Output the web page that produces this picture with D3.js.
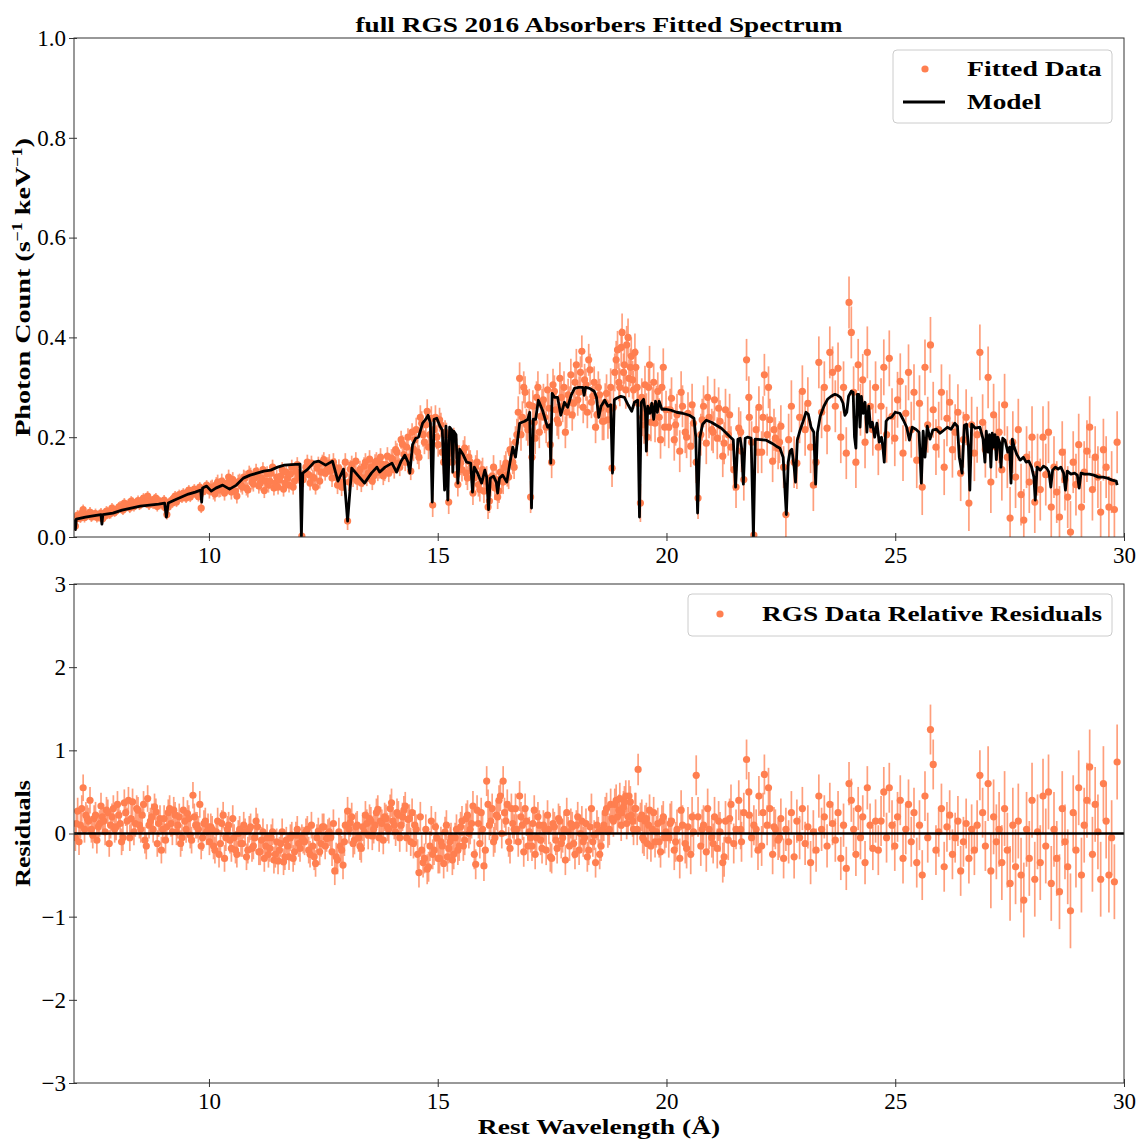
<!DOCTYPE html>
<html>
<head>
<meta charset="utf-8">
<script src="https://cdn.jsdelivr.net/npm/d3@7"></script>
<style>
  body { margin: 0; background: #fff; }
  svg { display: block; }
  svg text { font-family: "Liberation Serif", "DejaVu Serif", serif !important; }
</style>
</head>
<body>
<div id="chart"></div>
<script>
// ---- data ----
// RGS1 bins: centre wavelength (Angstrom), photon count, relative residual
const rgs1Wave = [
  7.08,7.13,7.19,7.25,7.31,7.37,7.43,7.49,7.55,7.61,7.67,7.73,7.79,7.85,7.91,7.97,8.03,8.09,8.15,8.21,
  8.27,8.33,8.39,8.45,8.51,8.57,8.63,8.69,8.75,8.81,8.87,8.93,8.99,9.05,9.11,9.17,9.23,9.29,9.35,9.41,
  9.47,9.53,9.59,9.65,9.71,9.77,9.83,9.89,9.95,
  10.01,10.07,10.13,10.19,10.25,10.31,10.37,10.43,10.49,10.55,10.61,10.67,10.73,10.79,10.85,10.91,10.97,11.03,11.09,11.15,
  11.21,11.27,11.33,11.39,11.45,11.51,11.57,11.63,11.69,11.75,11.81,11.87,11.93,11.99,12.03,12.09,12.15,12.21,12.27,12.33,
  12.39,12.45,12.51,12.57,
  12.63,12.69,12.75,12.81,12.87,12.93,12.98,13.03,13.09,13.15,13.21,13.27,13.33,13.39,13.45,13.51,13.57,13.63,13.69,13.75,
  13.81,13.87,13.93,13.99,14.05,14.11,14.17,14.23,14.29,14.35,14.41,
  14.47,14.53,14.59,14.65,14.71,14.77,14.83,14.89,14.95,15.01,15.07,15.13,15.19,15.24,15.29,15.35,15.41,15.47,15.53,15.59,
  15.65,15.71,15.77,15.83,15.89,15.95,16.01,16.07,16.13,16.19,16.25,16.31,16.37,16.43,16.49,16.55,16.61,16.67,
  16.73,16.79,16.85,16.91,16.97,17.03,17.08,17.13,17.19,17.25,17.31,17.37,17.43,17.49,17.55,17.61,17.67,17.73,17.79,17.85,
  17.91,17.97,18.03,18.09,18.15,18.21,18.27,18.33,18.39,18.45,18.51,18.57,
  18.63,18.69,18.75,18.81,18.87,18.93,18.98,19.03,19.08,19.13,19.18,19.23,19.28,19.33,19.38,19.43,19.48,19.53,19.58,19.63,
  19.69,19.75,19.81,19.87,19.93,19.99,
  20.05,20.11,20.17,20.23,20.29,20.35,20.41,20.47,20.53,20.59,20.65,20.69,20.75,20.81,20.87,20.93,20.99,21.05,21.11,21.17,
  21.23,21.29,21.35,21.41,21.47,21.52,21.58,21.64,21.69,21.75,21.81,21.86,21.91,21.96,22.02,22.08,22.14,22.20,22.26,22.32,
  22.38,22.44,22.50,22.56,
  22.61,22.67,22.73,22.79,22.85,22.91,22.97,23.03,23.09,23.15,23.21,23.27,23.33,23.39,23.45,23.51,23.57,23.63,23.69,23.75,
  23.81,23.87,23.93,23.99,24.04,24.09,24.14,24.19,24.24,24.29,24.34,24.39,24.45,24.51,24.57,
  24.63,24.69,24.75,24.81,24.87,24.93,24.99,25.05,25.11,25.17,25.23,25.29,25.35,25.41,25.47,25.53,25.59,25.65,25.71,25.77,
  25.83,25.89,25.95,26.01,26.07,26.13,26.19,26.25,26.31,26.37,26.43,26.49,26.55,26.61,26.67,26.73,26.79,26.85,26.91,26.97,
  27.03,27.09,27.15,27.21,27.27,27.33,27.39,27.45,27.51,27.57,27.63,27.69,27.75,27.81,27.87,27.93,27.99,28.05,28.11,28.17,
  28.23,28.29,28.35,28.41,28.47,28.53,28.59,28.65,28.71,28.77,28.83,28.89,28.95,29.01,29.07,29.13,29.19,29.25,29.31,29.37,
  29.43,29.49,29.55,29.61,29.67,29.73,29.79,29.85
];
const rgs1Flux = [
  0.022,0.044,0.038,0.055,0.042,0.046,0.040,0.044,0.039,0.045,0.036,0.042,0.050,0.047,0.055,0.052,0.060,0.057,0.068,0.062,
  0.058,0.070,0.064,0.073,0.066,0.078,0.068,0.064,0.072,0.076,0.061,0.070,0.068,0.058,0.060,0.072,0.078,0.070,0.085,0.078,
  0.083,0.090,0.080,0.088,0.092,0.081,0.058,0.097,0.104,
  0.092,0.100,0.086,0.110,0.095,0.104,0.097,0.120,0.090,0.106,0.082,0.112,0.100,0.118,0.094,0.124,0.106,0.132,0.102,0.118,
  0.093,0.127,0.112,0.140,0.108,0.100,0.122,0.096,0.130,0.104,0.140,0.112,0.145,0.118,0.002,0.128,0.150,0.108,0.120,0.100,
  0.146,0.130,0.155,0.135,
  0.148,0.118,0.140,0.104,0.128,0.110,0.150,0.032,0.136,0.118,0.152,0.126,0.108,0.142,0.120,0.156,0.112,0.148,0.130,0.160,
  0.122,0.145,0.128,0.158,0.135,0.170,0.140,0.186,0.150,0.200,0.132,
  0.176,0.215,0.160,0.228,0.190,0.252,0.205,0.064,0.240,0.185,0.225,0.150,0.205,0.070,0.170,0.195,0.125,0.160,0.135,0.178,
  0.118,0.150,0.088,0.140,0.105,0.128,0.092,0.118,0.072,0.122,0.098,0.080,0.130,0.110,0.148,0.120,0.168,0.140,
  0.205,0.318,0.240,0.290,0.215,0.080,0.262,0.198,0.300,0.242,0.275,0.220,0.258,0.150,0.292,0.235,0.318,0.262,0.210,0.285,
  0.325,0.268,0.345,0.290,0.372,0.315,0.250,0.335,0.282,0.220,0.300,0.258,
  0.232,0.288,0.255,0.138,0.330,0.375,0.300,0.410,0.345,0.385,0.318,0.362,0.295,0.340,0.268,0.068,0.240,0.305,0.200,0.345,
  0.262,0.228,0.292,0.195,0.340,0.255,
  0.220,0.278,0.195,0.245,0.172,0.262,0.210,0.248,0.182,0.228,0.150,0.078,0.205,0.262,0.188,0.240,0.215,0.275,0.198,0.232,
  0.162,0.255,0.205,0.180,0.135,0.100,0.218,0.172,0.115,0.355,0.240,0.190,0.004,0.215,0.260,0.170,0.325,0.205,0.235,0.152,
  0.198,0.178,0.222,0.140,
  0.045,0.195,0.262,0.150,0.148,0.240,0.292,0.215,0.268,0.180,0.104,0.150,0.350,0.250,0.300,0.218,0.370,0.330,0.262,0.338,
  0.200,0.300,0.168,0.470,0.410,0.290,0.150,0.345,0.255,0.315,0.190,0.370,0.262,0.215,0.300,
  0.180,0.262,0.340,0.205,0.358,0.242,0.198,0.275,0.312,0.168,0.248,0.330,0.215,0.290,0.154,0.268,0.100,0.340,0.225,0.385,
  0.255,0.180,0.215,0.290,0.140,0.238,0.270,0.175,0.210,0.250,0.128,0.195,0.240,0.068,0.225,0.168,0.205,0.370,0.230,0.175,
  0.320,0.110,0.245,0.180,0.210,0.135,0.265,0.160,0.038,0.190,0.120,0.215,0.085,0.034,0.160,0.110,0.200,0.070,0.145,0.095,
  0.200,0.125,0.210,0.060,0.140,0.090,0.040,0.170,0.115,0.080,0.010,0.150,0.105,0.185,0.060,0.130,0.172,0.220,0.095,0.160,
  0.120,0.050,0.175,0.140,0.060,0.110,0.055,0.190
];
const rgs1Resid = [
  -0.05,0.27,0.10,0.55,0.22,0.15,0.05,0.18,-0.08,0.12,0.20,0.02,0.25,0.10,0.30,0.08,0.22,-0.10,0.37,0.15,
  -0.05,0.38,0.12,0.28,0.05,0.35,-0.15,0.10,0.20,0.32,-0.12,0.18,0.05,-0.08,0.25,0.12,0.28,0.02,0.20,-0.05,
  0.15,0.24,-0.02,0.46,0.10,0.05,-0.15,0.12,0.02,
  -0.10,0.05,-0.20,0.15,-0.12,0.22,-0.05,0.10,-0.18,-0.05,-0.25,0.05,-0.12,0.02,-0.20,0.08,-0.15,0.15,-0.22,-0.08,
  -0.30,-0.05,-0.18,0.02,-0.25,-0.33,-0.12,-0.34,-0.08,-0.28,-0.02,-0.22,0.05,-0.18,-0.05,-0.10,0.05,-0.25,-0.15,-0.36,
  0.03,-0.12,0.08,-0.06,
  0.02,-0.22,-0.45,-0.32,-0.15,-0.38,0.10,0.27,0.13,-0.12,0.08,-0.05,-0.18,0.02,0.12,0.18,-0.03,0.10,0.29,0.15,
  -0.08,0.18,0.05,0.37,0.10,0.25,-0.05,0.20,0.33,0.17,-0.10,
  -0.12,0.05,-0.47,-0.20,-0.30,-0.43,-0.15,-0.25,0.08,-0.30,-0.10,-0.36,0.10,-0.18,-0.05,-0.25,0.05,-0.15,0.15,-0.08,
  0.22,0.05,0.33,-0.37,0.12,0.25,-0.39,0.63,0.10,0.30,-0.05,0.20,0.45,0.63,0.15,-0.10,0.30,0.05,
  0.05,0.45,0.10,0.30,-0.15,-0.05,0.12,-0.25,0.20,-0.08,0.10,-0.20,0.05,-0.30,0.08,-0.18,0.15,-0.05,-0.32,0.02,
  0.12,-0.12,0.10,-0.20,0.15,-0.05,-0.28,0.08,-0.10,-0.35,0.02,-0.15,
  0.10,0.30,0.05,0.18,0.35,0.20,0.42,0.25,0.38,0.12,0.45,0.22,0.05,0.30,0.77,0.18,-0.05,0.15,-0.12,0.28,
  0.05,-0.10,0.12,-0.22,0.20,0.02,
  -0.05,0.15,-0.20,0.05,-0.30,0.10,-0.12,0.08,-0.25,0.02,0.70,0.20,-0.15,0.10,-0.22,0.05,-0.05,0.20,-0.18,0.02,
  -0.35,0.15,-0.08,0.35,-0.12,0.05,0.40,-0.10,0.25,0.89,0.22,-0.05,0.10,0.05,0.45,-0.15,0.71,0.10,0.30,-0.25,
  0.05,-0.08,0.18,-0.30,
  0.05,-0.10,0.25,-0.28,0.15,-0.05,0.30,-0.12,0.08,-0.35,0.02,-0.20,0.45,0.05,0.20,-0.15,0.35,0.12,-0.08,0.25,
  -0.30,0.10,-0.42,0.60,0.40,0.05,-0.25,0.30,-0.05,0.20,-0.35,0.55,0.10,-0.18,0.15,
  -0.20,0.15,0.50,-0.05,0.55,0.10,-0.15,0.20,0.40,-0.30,0.05,0.35,-0.10,0.25,-0.35,0.10,-0.50,0.45,-0.05,1.25,
  0.83,-0.20,0.02,0.30,-0.40,0.08,0.22,-0.25,-0.05,0.15,-0.45,-0.10,0.12,-0.30,0.05,-0.20,0.10,0.70,0.25,-0.15,
  0.60,-0.45,0.20,-0.10,0.05,-0.35,0.30,-0.20,-0.60,0.10,-0.40,0.15,-0.50,-0.80,0.05,-0.30,0.40,-0.55,0.02,-0.35,
  0.45,-0.15,0.50,-0.60,0.05,-0.30,-0.70,0.30,-0.10,-0.40,-0.93,0.25,-0.20,0.55,-0.50,0.10,0.40,0.80,-0.25,0.35,
  0.02,-0.55,0.60,0.15,-0.50,-0.05,-0.58,0.86
];

// RGS2 bins (interleaved, short-wavelength half)
const rgs2Wave = [
  7.10,7.16,7.22,7.28,7.34,7.40,7.46,7.52,7.58,7.64,7.70,7.76,7.82,7.88,7.94,8.00,8.06,8.12,8.18,8.24,
  8.30,8.36,8.42,8.48,8.54,8.60,8.66,8.72,8.78,8.84,8.90,8.96,9.02,9.08,9.14,9.20,9.26,9.32,9.38,9.44,
  9.50,9.56,9.62,9.68,9.74,9.80,9.86,9.92,9.98,
  10.04,10.10,10.16,10.22,10.28,10.34,10.40,10.46,10.52,10.58,10.64,10.70,10.76,10.82,10.88,10.94,11.00,11.06,11.12,11.18,
  11.24,11.30,11.36,11.42,11.48,11.54,11.60,11.66,11.72,11.78,11.84,11.90,11.96,12.06,12.12,12.18,12.24,12.30,12.36,12.42,
  12.48,12.54,12.60,
  12.66,12.72,12.78,12.84,12.90,12.96,13.06,13.12,13.18,13.24,13.30,13.36,13.42,13.48,13.54,13.60,13.66,13.72,13.78,13.84,
  13.90,13.96,14.02,14.08,14.14,14.20,14.26,14.32,14.38,14.44,
  14.50,14.56,14.62,14.68,14.74,14.80,14.86,14.92,14.98,15.04,15.10,15.16,15.21,15.27,15.32,15.38,15.44,15.50,15.56,15.62,
  15.68,15.74,15.80,15.86,15.92,15.98,16.04,16.10,16.16,16.22,16.28,16.34,16.40,16.46,16.52,16.58,16.64,16.70,
  16.76,16.82,16.88,16.94,17.00,17.06,17.11,17.16,17.22,17.28,17.34,17.40,17.46,17.52,17.58,17.64,17.70,17.76,17.82,17.88,
  17.94,18.00,18.06,18.12,18.18,18.24,18.30,18.36,18.42,18.48,18.54,18.60,
  18.66,18.72,18.78,18.84,18.90,18.96,19.01,19.06,19.11,19.16,19.21,19.26,19.31,19.36,19.46,19.51,19.56,19.61,19.66,19.72,
  19.78,19.84,19.90,19.96,
  20.08,20.20,20.32,20.44,20.56,20.78,20.90,21.02,21.14,21.26,21.38,21.62,21.80,22.00,22.11,22.23,22.35,22.47
];
const rgs2Flux = [
  0.036,0.041,0.048,0.039,0.044,0.050,0.043,0.047,0.041,0.048,0.044,0.052,0.046,0.058,0.050,0.056,0.062,0.054,0.060,0.066,
  0.072,0.061,0.068,0.064,0.074,0.070,0.082,0.070,0.066,0.078,0.072,0.065,0.074,0.045,0.070,0.068,0.082,0.076,0.080,0.088,
  0.078,0.094,0.086,0.096,0.084,0.100,0.090,0.094,0.098,
  0.098,0.090,0.105,0.094,0.112,0.088,0.108,0.100,0.115,0.092,0.110,0.104,0.120,0.098,0.128,0.110,0.118,0.125,0.108,0.135,
  0.112,0.104,0.128,0.098,0.120,0.114,0.135,0.108,0.118,0.126,0.100,0.132,0.122,0.115,0.140,0.125,0.148,0.118,0.138,0.112,
  0.150,0.128,0.142,
  0.132,0.150,0.120,0.138,0.100,0.125,0.110,0.145,0.128,0.112,0.135,0.118,0.150,0.128,0.140,0.122,0.152,0.135,0.146,0.130,
  0.162,0.140,0.155,0.175,0.148,0.195,0.165,0.180,0.160,0.210,
  0.195,0.170,0.240,0.205,0.225,0.180,0.238,0.215,0.200,0.235,0.170,0.210,0.165,0.190,0.150,0.180,0.105,0.148,0.170,0.128,
  0.160,0.132,0.118,0.150,0.095,0.135,0.112,0.060,0.105,0.140,0.115,0.092,0.120,0.140,0.125,0.175,0.150,0.190,
  0.250,0.205,0.300,0.225,0.265,0.160,0.230,0.280,0.210,0.265,0.240,0.295,0.185,0.305,0.255,0.228,0.280,0.300,0.250,0.270,
  0.245,0.310,0.275,0.330,0.260,0.305,0.355,0.270,0.310,0.245,0.285,0.232,
  0.270,0.235,0.300,0.260,0.355,0.310,0.380,0.330,0.295,0.400,0.340,0.315,0.370,0.300,0.280,0.225,0.250,0.300,0.230,0.310,
  0.265,0.240,0.300,0.220,
  0.255,0.225,0.290,0.200,0.265,0.235,0.280,0.210,0.258,0.188,0.245,0.210,0.280,0.170,0.240,0.300,0.215,0.190
];
const rgs2Resid = [
  0.12,-0.10,0.30,0.05,0.18,0.40,-0.02,0.22,0.08,0.33,0.15,0.28,-0.12,0.20,0.05,0.35,0.12,-0.05,0.25,0.40,
  0.18,0.02,0.30,0.10,0.22,-0.08,0.42,0.15,0.05,0.26,0.12,-0.20,0.18,0.08,0.30,0.02,0.22,0.10,-0.12,0.28,
  0.05,0.18,-0.08,0.20,0.10,0.35,-0.05,0.15,0.08,
  0.08,-0.15,0.02,-0.25,0.12,-0.30,0.05,-0.08,0.18,-0.20,0.00,-0.12,0.10,-0.28,0.05,-0.18,-0.05,0.08,-0.22,0.02,
  -0.15,-0.25,-0.05,-0.32,-0.10,-0.20,0.02,-0.28,-0.15,-0.05,-0.30,-0.02,-0.12,-0.08,0.02,-0.20,0.10,-0.28,-0.05,-0.22,
  0.08,-0.15,0.00,
  -0.05,0.12,-0.28,0.02,-0.20,-0.10,0.05,0.20,-0.08,0.10,-0.15,0.08,0.22,-0.02,0.15,0.05,0.25,-0.05,0.12,0.20,
  0.08,0.30,0.15,0.02,0.22,0.10,0.28,-0.05,0.18,0.25,
  0.10,-0.25,0.20,-0.35,0.05,-0.40,0.15,-0.20,-0.05,-0.30,-0.15,0.02,-0.28,-0.10,-0.32,-0.05,-0.20,0.08,-0.15,0.18,
  0.00,0.12,-0.25,0.28,-0.12,0.05,-0.20,0.35,0.15,-0.10,0.22,0.40,0.00,0.25,0.35,-0.18,0.12,0.30,
  -0.10,0.20,-0.22,0.15,0.02,-0.15,0.28,-0.05,0.10,-0.18,0.05,0.22,-0.28,0.12,-0.08,0.18,-0.12,0.05,0.25,-0.15,
  0.08,-0.25,0.20,0.00,-0.10,0.12,-0.20,0.30,-0.02,0.10,-0.25,0.05,
  0.25,0.02,0.35,0.15,0.40,0.28,0.10,0.32,0.45,0.20,0.38,0.15,0.30,0.05,0.22,-0.08,0.18,0.10,-0.15,0.25,
  0.02,-0.10,0.15,-0.05,
  0.12,-0.10,0.28,-0.18,0.20,0.05,0.30,-0.12,0.15,-0.28,0.18,0.05,0.50,-0.20,0.25,0.55,0.08,-0.05
];

// typical 1-sigma error size, by wavelength range (upper edges)
const errEdges        = [10.0, 12.6, 14.45, 16.7, 18.6, 20.02, 22.58, 24.6, 27.0];
const fluxErrByRange  = [0.010, 0.015, 0.018, 0.024, 0.032, 0.038, 0.042, 0.052, 0.056, 0.062];
const residErrByRange = [0.16, 0.16, 0.17, 0.18, 0.18, 0.19, 0.24, 0.26, 0.30, 0.45];

// fitted absorber model
const modelWave = [
  7.06,7.08,7.10,7.30,7.50,7.64,7.66,7.68,7.90,8.10,8.30,8.50,8.70,8.90,9.03,9.07,9.11,9.25,9.40,9.55,
  9.70,9.82,9.84,9.86,9.95,10.05,10.15,10.30,10.45,10.60,10.75,10.90,11.05,11.20,11.35,11.50,11.65,11.80,11.99,12.02,
  12.05,12.15,12.30,12.40,12.55,12.70,12.82,12.94,13.03,13.12,13.25,13.40,13.55,13.67,13.73,13.85,14.00,14.10,14.20,14.28,
  14.35,14.39,14.45,14.52,14.58,14.67,14.74,14.79,14.84,14.88,14.92,14.98,15.05,15.10,15.15,15.18,15.22,15.26,15.31,15.33,
  15.35,15.40,15.44,15.48,15.55,15.63,15.72,15.76,15.80,15.87,15.96,16.03,16.07,16.11,16.15,16.22,16.28,16.31,16.35,16.42,
  16.51,16.58,16.64,16.70,16.79,16.90,16.97,17.01,17.05,17.09,17.14,17.20,17.29,17.40,17.45,17.47,17.50,17.55,17.62,17.69,
  17.77,17.84,17.92,17.99,18.08,18.17,18.20,18.23,18.32,18.42,18.47,18.52,18.57,18.65,18.72,18.78,18.82,18.86,18.91,19.00,
  19.08,19.16,19.24,19.30,19.37,19.41,19.45,19.50,19.54,19.56,19.59,19.64,19.68,19.72,19.76,19.80,19.84,19.90,20.00,20.10,
  20.22,20.35,20.50,20.60,20.64,20.68,20.73,20.79,20.87,20.98,21.09,21.20,21.31,21.40,21.46,21.51,21.56,21.61,21.64,21.68,
  21.72,21.77,21.85,21.90,21.94,22.05,22.18,22.30,22.40,22.48,22.55,22.62,22.66,22.70,22.74,22.79,22.82,22.86,22.92,22.98,
  23.05,23.10,23.16,23.22,23.26,23.30,23.36,23.44,23.52,23.60,23.68,23.74,23.80,23.86,23.90,23.94,23.98,24.04,24.08,24.11,
  24.14,24.17,24.20,24.23,24.26,24.30,24.34,24.38,24.42,24.46,24.50,24.55,24.60,24.65,24.70,24.73,24.76,24.80,24.85,24.92,
  25.00,25.10,25.18,25.25,25.31,25.37,25.45,25.52,25.57,25.61,25.65,25.70,25.76,25.82,25.90,25.98,26.06,26.14,26.22,26.30,
  26.36,26.40,26.46,26.51,26.56,26.60,26.63,26.67,26.75,26.85,26.92,26.96,26.99,27.03,27.06,27.09,27.12,27.15,27.18,27.21,
  27.24,27.28,27.31,27.35,27.40,27.46,27.50,27.53,27.56,27.60,27.66,27.73,27.80,27.86,27.92,27.98,28.03,28.06,28.10,28.17,
  28.24,28.31,28.36,28.40,28.44,28.50,28.56,28.62,28.68,28.72,28.76,28.84,28.92,28.98,29.02,29.06,29.14,29.24,29.34,29.44,
  29.54,29.64,29.74,29.83,29.85
];
const modelFlux = [
  0.035,0.015,0.036,0.040,0.043,0.045,0.026,0.045,0.048,0.054,0.058,0.062,0.064,0.066,0.068,0.040,0.068,0.074,0.080,0.086,
  0.090,0.094,0.070,0.098,0.102,0.092,0.098,0.104,0.096,0.104,0.118,0.124,0.128,0.132,0.134,0.140,0.144,0.145,0.146,0.002,
  0.128,0.135,0.150,0.152,0.144,0.152,0.112,0.136,0.032,0.138,0.124,0.108,0.128,0.140,0.130,0.140,0.148,0.130,0.152,0.164,
  0.150,0.128,0.185,0.198,0.200,0.228,0.236,0.244,0.228,0.070,0.236,0.238,0.222,0.214,0.094,0.222,0.074,0.220,0.214,0.130,
  0.212,0.205,0.108,0.176,0.166,0.150,0.148,0.090,0.140,0.128,0.108,0.134,0.120,0.055,0.118,0.122,0.110,0.088,0.118,0.124,
  0.110,0.150,0.180,0.160,0.228,0.232,0.236,0.250,0.058,0.236,0.236,0.274,0.254,0.220,0.225,0.148,0.288,0.280,0.280,0.244,
  0.270,0.260,0.285,0.298,0.300,0.300,0.284,0.300,0.298,0.292,0.280,0.240,0.262,0.274,0.262,0.265,0.128,0.275,0.278,0.282,
  0.280,0.265,0.252,0.270,0.274,0.040,0.270,0.276,0.250,0.172,0.262,0.248,0.268,0.236,0.272,0.250,0.272,0.256,0.256,0.254,
  0.250,0.248,0.244,0.238,0.200,0.048,0.200,0.226,0.234,0.230,0.224,0.218,0.208,0.200,0.195,0.100,0.196,0.198,0.180,0.106,
  0.198,0.200,0.198,0.000,0.196,0.195,0.194,0.188,0.182,0.178,0.160,0.045,0.150,0.172,0.176,0.140,0.110,0.194,0.214,0.230,
  0.250,0.246,0.220,0.210,0.106,0.210,0.242,0.262,0.276,0.282,0.286,0.284,0.280,0.268,0.244,0.250,0.282,0.292,0.290,0.200,
  0.178,0.286,0.286,0.220,0.282,0.248,0.270,0.210,0.262,0.220,0.230,0.200,0.228,0.190,0.200,0.180,0.150,0.232,0.238,0.240,
  0.250,0.248,0.234,0.220,0.194,0.220,0.216,0.210,0.108,0.212,0.160,0.222,0.196,0.214,0.216,0.208,0.214,0.220,0.216,0.228,
  0.222,0.160,0.128,0.224,0.226,0.180,0.094,0.226,0.218,0.220,0.196,0.150,0.212,0.170,0.205,0.140,0.208,0.180,0.205,0.155,
  0.200,0.190,0.140,0.198,0.194,0.170,0.180,0.108,0.196,0.180,0.165,0.154,0.160,0.150,0.152,0.140,0.120,0.074,0.140,0.134,
  0.142,0.138,0.130,0.100,0.134,0.140,0.136,0.140,0.128,0.094,0.132,0.126,0.128,0.124,0.098,0.128,0.126,0.126,0.124,0.120,
  0.120,0.118,0.114,0.112,0.104
];

const xTicks = [10, 15, 20, 25, 30];
const fluxTicks = [0, 0.2, 0.4, 0.6, 0.8, 1.0];
const residTicks = [-3, -2, -1, 0, 1, 2, 3];

const dataColor = '#ff7f50';
const serif = '"Liberation Serif", "DejaVu Serif", serif';

// ---- layout ----
const width = 1141, height = 1141;
const left = 74, right = 1124;
const topPanel = { top: 38, bottom: 537 };
const botPanel = { top: 584, bottom: 1083 };

const svg = d3.select('#chart')
  .append('svg')
  .attr('width', width)
  .attr('height', height)
  .attr('font-family', serif);

const x = d3.scaleLinear().domain([7.05, 30]).range([left, right]);
const yFlux = d3.scaleLinear().domain([0, 1]).range([topPanel.bottom, topPanel.top]);
const yRes = d3.scaleLinear().domain([-3, 3]).range([botPanel.bottom, botPanel.top]);

function toBins(waves, flux, resid) {
  return waves.map((w, i) => {
    const k = d3.bisectRight(errEdges, w);
    return { w, flux: flux[i], fluxErr: fluxErrByRange[k], res: resid[i], resErr: residErrByRange[k] };
  });
}
const points = toBins(rgs1Wave, rgs1Flux, rgs1Resid)
  .concat(toBins(rgs2Wave, rgs2Flux, rgs2Resid))
  .sort((a, b) => a.w - b.w);
const model = modelWave.map((w, i) => ({ w, f: modelFlux[i] }));

// clip regions so error bars stay inside the axes
const defs = svg.append('defs');
[['clipTop', topPanel], ['clipBot', botPanel]].forEach(([id, p]) => {
  defs.append('clipPath').attr('id', id)
    .append('rect')
    .attr('x', left).attr('y', p.top)
    .attr('width', right - left).attr('height', p.bottom - p.top);
});

function drawAxes(p, y, ticks, fmt) {
  const xAxis = svg.append('g')
    .attr('transform', `translate(0,${p.bottom})`)
    .call(d3.axisBottom(x).tickValues(xTicks).tickSize(4).tickFormat(d3.format('d')));
  xAxis.attr('font-family', serif);
  xAxis.select('.domain').remove();
  xAxis.selectAll('.tick line').attr('y1', -4).attr('y2', 4).attr('stroke', '#333');
  xAxis.selectAll('.tick text')
    .attr('y', 10).attr('font-size', '23px').attr('fill', '#000')
    .style('font-family', serif);

  const yAxis = svg.append('g')
    .attr('transform', `translate(${left},0)`)
    .call(d3.axisLeft(y).tickValues(ticks).tickSize(5).tickFormat(fmt));
  yAxis.attr('font-family', serif);
  yAxis.select('.domain').remove();
  yAxis.selectAll('.tick line').attr('x1', -5).attr('x2', 3).attr('stroke', '#333');
  yAxis.selectAll('.tick text')
    .attr('x', -8).attr('font-size', '23px').attr('fill', '#000')
    .style('font-family', serif);

  // box spines
  svg.append('rect')
    .attr('x', left).attr('y', p.top)
    .attr('width', right - left).attr('height', p.bottom - p.top)
    .attr('fill', 'none').attr('stroke', '#333').attr('stroke-width', 1);
}

function drawErrorPoints(g, y, val, err) {
  g.selectAll('line.err')
    .data(points)
    .join('line')
    .attr('class', 'err')
    .attr('x1', d => x(d.w)).attr('x2', d => x(d.w))
    .attr('y1', d => y(d[val] - d[err]))
    .attr('y2', d => y(d[val] + d[err]))
    .attr('stroke', dataColor)
    .attr('stroke-opacity', 0.75)
    .attr('stroke-width', 1.7);

  g.selectAll('circle.pt')
    .data(points)
    .join('circle')
    .attr('class', 'pt')
    .attr('cx', d => x(d.w))
    .attr('cy', d => y(d[val]))
    .attr('r', 3.6)
    .attr('fill', dataColor);
}

// ---- top panel ----
const gTop = svg.append('g').attr('clip-path', 'url(#clipTop)');
drawErrorPoints(gTop, yFlux, 'flux', 'fluxErr');

gTop.append('path')
  .datum(model)
  .attr('fill', 'none')
  .attr('stroke', '#000')
  .attr('stroke-width', 2.8)
  .attr('stroke-linejoin', 'round')
  .attr('d', d3.line().x(d => x(d.w)).y(d => yFlux(d.f)));

drawAxes(topPanel, yFlux, fluxTicks, d3.format('.1f'));

// ---- bottom panel ----
const gBot = svg.append('g').attr('clip-path', 'url(#clipBot)');
drawErrorPoints(gBot, yRes, 'res', 'resErr');

gBot.append('line')
  .attr('x1', left).attr('x2', right)
  .attr('y1', yRes(0)).attr('y2', yRes(0))
  .attr('stroke', '#000')
  .attr('stroke-width', 2.4);

drawAxes(botPanel, yRes, residTicks, d3.format('d'));

// ---- titles & labels (stretched horizontally to match the wider TeX face) ----
function label(px, py, txt, opts = {}) {
  const rot = opts.rotate ? ' rotate(-90)' : '';
  const t = svg.append('text')
    .attr('transform', `translate(${px},${py})${rot} scale(${opts.sx || 1.25},1)`)
    .attr('text-anchor', opts.anchor || 'start')
    .attr('font-size', '22px')
    .attr('font-weight', 'bold')
    .attr('fill', '#000');
  if (txt) t.text(txt);
  return t;
}

label((left + right) / 2, 32, 'full RGS 2016 Absorbers Fitted Spectrum', { anchor: 'middle', sx: 1.24 });

const fluxLabel = label(30, (topPanel.top + topPanel.bottom) / 2, null, { anchor: 'middle', rotate: true, sx: 1.28 });
fluxLabel.append('tspan').text('Photon Count (s');
fluxLabel.append('tspan').attr('dy', -8).attr('font-size', '14px').text('−1');
fluxLabel.append('tspan').attr('dy', 8).text(' keV');
fluxLabel.append('tspan').attr('dy', -8).attr('font-size', '14px').text('−1');
fluxLabel.append('tspan').attr('dy', 8).text(')');

label(30, (botPanel.top + botPanel.bottom) / 2, 'Residuals', { anchor: 'middle', rotate: true, sx: 1.18 });
label((left + right) / 2, 1134, 'Rest Wavelength (Å)', { anchor: 'middle', sx: 1.25 });

// ---- legends ----
function legendBox(x0, y0, w, h) {
  svg.append('rect')
    .attr('x', x0).attr('y', y0).attr('width', w).attr('height', h)
    .attr('rx', 4)
    .attr('fill', '#fff').attr('fill-opacity', 0.8)
    .attr('stroke', '#cccccc').attr('stroke-width', 1);
}

legendBox(893, 50, 219, 73);
svg.append('circle').attr('cx', 925).attr('cy', 69).attr('r', 3.6).attr('fill', dataColor);
label(967, 76, 'Fitted Data', { sx: 1.26 });
svg.append('line').attr('x1', 903).attr('x2', 945).attr('y1', 102).attr('y2', 102)
  .attr('stroke', '#000').attr('stroke-width', 2.8);
label(967, 109, 'Model', { sx: 1.24 });

legendBox(688, 594, 424, 42);
svg.append('circle').attr('cx', 720).attr('cy', 614).attr('r', 3.6).attr('fill', dataColor);
label(762, 621, 'RGS Data Relative Residuals', { sx: 1.24 });
</script>
</body>
</html>
